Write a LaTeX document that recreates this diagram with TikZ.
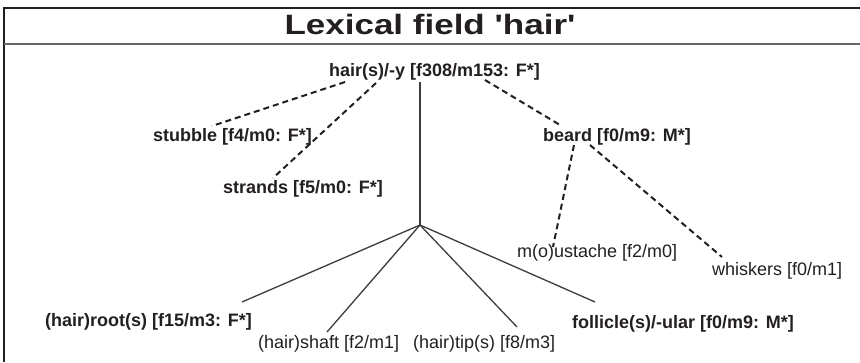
\documentclass[tikz,border=0pt]{standalone}
\usepackage{fontspec}
\setmainfont{Liberation Sans}[Ligatures=TeXOff]
\usetikzlibrary{calc}
\definecolor{ink}{RGB}{35,31,32}
\definecolor{linegray}{RGB}{60,60,60}
\tikzset{
  lbl/.style={anchor=base west, inner sep=0pt, text=ink, font=\fontsize{18}{20}\selectfont},
  blbl/.style={lbl, font=\fontsize{18}{20}\selectfont\bfseries},
  solidline/.style={draw=linegray, line width=1.3pt},
  dashline/.style={draw=ink, line width=2pt, dash pattern=on 6pt off 4pt},
}
\begin{document}
\begin{tikzpicture}[x=1pt,y=-1pt]
\useasboundingbox (0,0) rectangle (860,362);
% frame
\draw[ink, line width=2.5pt] (4,362) -- (4,8) -- (860,8);
\draw[gray!80!black, line width=1.5pt] (4,44) -- (860,44);
\node[anchor=base, inner sep=0pt, text=ink, font=\fontsize{35}{40}\selectfont\bfseries] (title) at (430,34) {\scalebox{1}[0.8]{Lexical field 'hair'}};
% nodes
\node[blbl] (hair) at (329,76) {hair(s)/-y [f308/m153: F*]};
\node[blbl] (stubble) at (153,141) {stubble [f4/m0: F*]};
\node[blbl] (strands) at (223,193) {strands [f5/m0: F*]};
\node[blbl] (beard) at (543,141) {beard [f0/m9: M*]};
\node[lbl] (moustache) at (517,257) {m(o)ustache [f2/m0]};
\node[lbl] (whiskers) at (712,275) {whiskers [f0/m1]};
\node[blbl] (root) at (45,326) {(hair)root(s) [f15/m3: F*]};
\node[lbl] (shaft) at (258,348) {(hair)shaft [f2/m1]};
\node[lbl] (tip) at (413,348) {(hair)tip(s) [f8/m3]};
\node[blbl] (follicle) at (572,328) {follicle(s)/-ular [f0/m9: M*]};
\coordinate (hub) at (420,225);
% solid connectors
\draw[solidline] ($(hair.base west)+(91,6)$) -- (hub);
\draw[solidline] (hub) -- ($(root.base west)+(197,-24)$);
\draw[solidline] (hub) -- ($(shaft.base west)+(69,-16)$);
\draw[solidline] (hub) -- ($(tip.base west)+(104,-21)$);
\draw[solidline] (hub) -- ($(follicle.base west)+(23,-26)$);
% dashed connectors
\draw[dashline] ($(hair.base west)+(16,6)$) -- ($(stubble.base west)+(59,-15)$);
\draw[dashline] ($(hair.base west)+(47,7)$) -- ($(strands.base west)+(50,-15)$);
\draw[dashline] ($(hair.base west)+(156,4)$) -- ($(beard.base west)+(17,-16)$);
\draw[dashline] ($(beard.base west)+(31,4)$) -- ($(moustache.base west)+(36,-10)$);
\draw[dashline] ($(beard.base west)+(47,4)$) -- ($(whiskers.base west)+(10,-18)$);
\end{tikzpicture}
\end{document}
